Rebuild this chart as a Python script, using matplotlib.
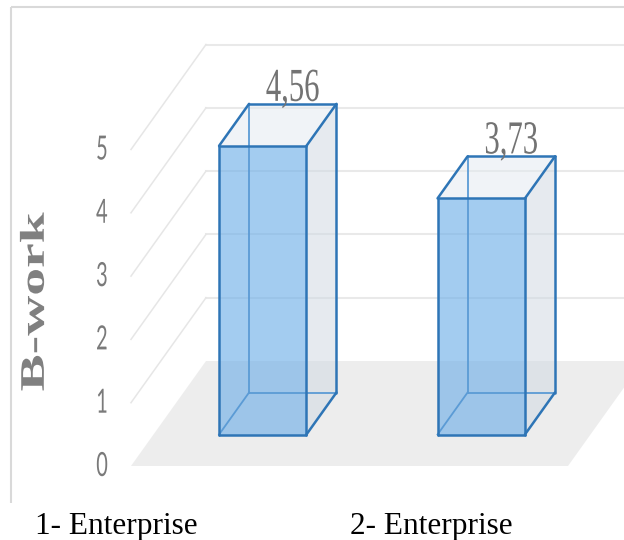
import matplotlib
matplotlib.use("Agg")
import matplotlib.pyplot as plt
from matplotlib.patches import Polygon
from matplotlib.patheffects import AbstractPathEffect
from matplotlib.transforms import Affine2D

# data
categories = ["1- Enterprise", "2- Enterprise"]
values = [4.56, 3.73]
value_labels = ["4,56", "3,73"]
y_ticks = [0, 1, 2, 3, 4, 5]
y_label = "B-work"

# pseudo-3D layout (pixels of the 624x540 picture)
X0, Y0 = 131, 466          # front-left corner of the floor
PLOT_W = 437               # floor width along the category axis
UNIT = 63.3                # pixels per value unit
DEPTH = (75, -105)         # full depth vector
BAR_W = 0.4                # bar width (fraction of a category)
BAR_D = (0.3, 0.7)         # bar depth range
RIGHT = 624


def proj(c, v, d):
    """category position c, value v, depth d (0..1) -> picture coords"""
    x = X0 + c * PLOT_W / len(categories) + d * DEPTH[0]
    y = Y0 - v * UNIT + d * DEPTH[1]
    return x, y


class Squeeze(AbstractPathEffect):
    """narrows glyphs like the stretched screenshot (scaled around the text centre)"""
    def __init__(self, sx=1.0, sy=1.0):
        super().__init__()
        self.sx, self.sy = sx, sy

    def draw_path(self, renderer, gc, tpath, affine, rgbFace=None):
        ext = tpath.get_extents()
        cx, cy = ext.x0 + ext.width / 2, ext.y0 + ext.height / 2
        sq = Affine2D().translate(-cx, -cy).scale(self.sx, self.sy).translate(cx, cy)
        renderer.draw_path(gc, tpath, sq + affine, rgbFace)


fig = plt.figure(figsize=(6.24, 5.4), dpi=100)
ax = fig.add_axes([0, 0, 1, 1])
ax.set_xlim(0, RIGHT)
ax.set_ylim(540, 0)
ax.axis("off")

# chart frame (only top and left visible)
ax.plot([11, RIGHT], [7, 7], color="#d9d9d9", lw=1.5, solid_capstyle="butt")
ax.plot([11, 11], [7, 503], color="#d9d9d9", lw=1.5, solid_capstyle="butt")

n = len(categories)
# floor
fl = [proj(0, 0, 0), proj(n, 0, 0), proj(n, 0, 1), proj(0, 0, 1)]
ax.add_patch(Polygon(fl, closed=True, facecolor="#ededed", edgecolor="none", zorder=1))

# gridlines: back wall + left wall
for t in y_ticks:
    bx, by = proj(0, t, 1)
    if t > 0:
        ax.plot([bx, RIGHT + 20], [by, by], color="#e9e9e9", lw=1.5, zorder=1.5)
        fx, fy = proj(0, t, 0)
        ax.plot([fx, bx], [fy, by], color="#e6e6e6", lw=1.1, zorder=1.5)
    lx, ly = proj(0, t, 0)
    ax.text(lx - 29, ly + 1, str(t), ha="center", va="center", fontsize=24,
            family=["Lato", "DejaVu Sans"], color="#7a7a7a",
            path_effects=[Squeeze(sx=0.6)], zorder=5)

edge = "#2e75b6"
inner = "#5b9bd5"
for i, v in enumerate(values):
    c0, c1 = i + 0.5 - BAR_W / 2, i + 0.5 + BAR_W / 2
    d0, d1 = BAR_D
    # corners
    fbl, fbr = proj(c0, 0, d0), proj(c1, 0, d0)
    ftl, ftr = proj(c0, v, d0), proj(c1, v, d0)
    bbl, bbr = proj(c0, 0, d1), proj(c1, 0, d1)
    btl, btr = proj(c0, v, d1), proj(c1, v, d1)

    # faces
    ax.add_patch(Polygon([fbr, bbr, btr, ftr], facecolor="#d0d9e2", alpha=0.53,
                         edgecolor="none", zorder=2))
    ax.add_patch(Polygon([ftl, ftr, btr, btl], facecolor="#e3e9f0", alpha=0.5,
                         edgecolor="none", zorder=2))
    ax.add_patch(Polygon([fbl, fbr, ftr, ftl], facecolor="#6eafe8", alpha=0.63,
                         edgecolor="none", zorder=2.5))

    # hidden edges seen through the glass
    for a, b in [(bbl, btl), (bbl, bbr), (bbl, fbl)]:
        ax.plot([a[0], b[0]], [a[1], b[1]], color=inner, lw=1.3, zorder=3)

    # visible edges
    for a, b in [(fbl, fbr), (fbr, ftr), (ftr, ftl), (ftl, fbl),
                 (ftl, btl), (btl, btr), (btr, ftr), (btr, bbr), (bbr, fbr)]:
        ax.plot([a[0], b[0]], [a[1], b[1]], color=edge, lw=1.8,
                solid_capstyle="round", zorder=4)

    # value label
    tx, ty = proj(i + 0.5, v, d1)
    ax.text(tx, ty - 3, value_labels[i], ha="center", va="baseline", fontsize=34,
            family=["Liberation Serif", "DejaVu Serif"], color="#737373",
            path_effects=[Squeeze(sx=0.65)], zorder=6)

    # category label (typed below the chart)
    cx = 35 + i * 315
    ax.text(cx, 534, categories[i], ha="left", va="baseline", fontsize=22.5,
            family=["Liberation Serif", "DejaVu Serif"], color="black", zorder=6)

# axis title
ax.text(37, 302, y_label, rotation=90, ha="center", va="center", fontsize=40,
        fontweight="bold", family=["Liberation Serif", "DejaVu Serif"], color="#808080",
        path_effects=[Squeeze(sy=0.62)], zorder=6)

fig.savefig("out.png", dpi=100)
